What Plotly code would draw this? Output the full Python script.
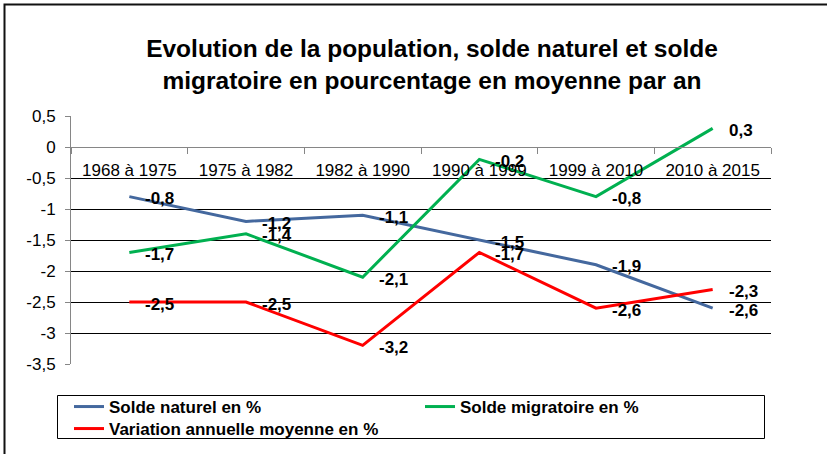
import plotly.graph_objects as go

categories = ["1968 à 1975", "1975 à 1982", "1982 à 1990", "1990 à 1999", "1999 à 2010", "2010 à 2015"]
solde_naturel = [-0.8, -1.2, -1.1, -1.5, -1.9, -2.6]
solde_migratoire = [-1.7, -1.4, -2.1, -0.2, -0.8, 0.3]
variation_annuelle = [-2.5, -2.5, -3.2, -1.7, -2.6, -2.3]
y_tick_vals = [0.5, 0, -0.5, -1, -1.5, -2, -2.5, -3, -3.5]
y_tick_text = ["0,5", "0", "-0,5", "-1", "-1,5", "-2", "-2,5", "-3", "-3,5"]

series = [
    ("Solde naturel en %", solde_naturel, "#44689E", "legend"),
    ("Solde migratoire en %", solde_migratoire, "#00B050", "legend"),
    ("Variation annuelle moyenne en %", variation_annuelle, "#FF0000", "legend2"),
]

W, H = 827, 454
ML, MR, MT, MB = 71, 56, 116, 90
PW, PH = W - ML - MR, H - MT - MB
FONT = "Liberation Sans, Arial, sans-serif"

def px_x(p):
    return (p - ML) / PW

def px_y(p):
    return (H - MB - p) / PH

fig = go.Figure()
annotations = []
for name, vals, color, lg in series:
    fig.add_trace(go.Scatter(x=categories, y=vals, mode="lines", name=name, legend=lg,
                             line=dict(color=color, width=3)))
    for c, v in zip(categories, vals):
        annotations.append(dict(x=c, y=v, xref="x", yref="y", text=f"{v:.1f}".replace(".", ","),
                                showarrow=False, xanchor="left", yanchor="middle",
                                xshift=14, yshift=-2,
                                font=dict(family=FONT, size=17, color="black", weight="bold")))

legend_common = dict(orientation="h", xanchor="left", yanchor="top",
                     entrywidth=306, entrywidthmode="pixels",
                     borderwidth=0, bgcolor="rgba(0,0,0,0)",
                     font=dict(family=FONT, size=17, color="black", weight="bold"),
                     itemwidth=30)

ymin, ymax = -3.5, 0.5
fig.update_layout(
    width=W, height=H,
    margin=dict(l=ML, r=MR, t=MT, b=MB, autoexpand=False),
    paper_bgcolor="white", plot_bgcolor="white",
    title=dict(text="Evolution de la population, solde naturel et solde<br>migratoire en pourcentage en moyenne par an",
               x=px_x(432), xref="paper", xanchor="center",
               y=1 - 57 / H, yref="container", yanchor="top",
               font=dict(family=FONT, size=24.5, color="black", weight="bold")),
    xaxis=dict(type="category", range=[-0.5, len(categories) - 0.5],
               anchor="free", position=(0 - ymin) / (ymax - ymin),
               showline=True, linecolor="#868686", linewidth=1,
               ticks="outside", tickson="boundaries", ticklen=6, tickcolor="#868686",
               showgrid=False, ticklabelstandoff=8,
               tickfont=dict(family=FONT, size=17, color="black")),
    yaxis=dict(range=[ymin, ymax], tickvals=y_tick_vals, ticktext=y_tick_text,
               showline=True, linecolor="#868686", linewidth=1,
               ticks="outside", ticklen=5, tickcolor="#868686",
               showgrid=True, gridcolor="#000000", gridwidth=1, zeroline=False,
               ticklabelstandoff=6,
               tickfont=dict(family=FONT, size=17, color="black")),
    legend=dict(legend_common, x=px_x(69), y=px_y(389)),
    legend2=dict(legend_common, x=px_x(69), y=px_y(411)),
    annotations=annotations,
    shapes=[
        dict(type="rect", xref="paper", yref="paper",
             x0=px_x(4.5), x1=px_x(840), y0=px_y(470), y1=px_y(4.5),
             line=dict(color="#111111", width=2), fillcolor="rgba(0,0,0,0)", layer="above"),
        dict(type="rect", xref="paper", yref="paper",
             x0=px_x(57.5), x1=px_x(764.5), y0=px_y(438.5), y1=px_y(395.5),
             line=dict(color="#000000", width=1), fillcolor="rgba(0,0,0,0)", layer="below"),
    ],
)

fig.write_html("out.html", post_script="document.body.style.margin='0px';",
               config={"displayModeBar": False})
